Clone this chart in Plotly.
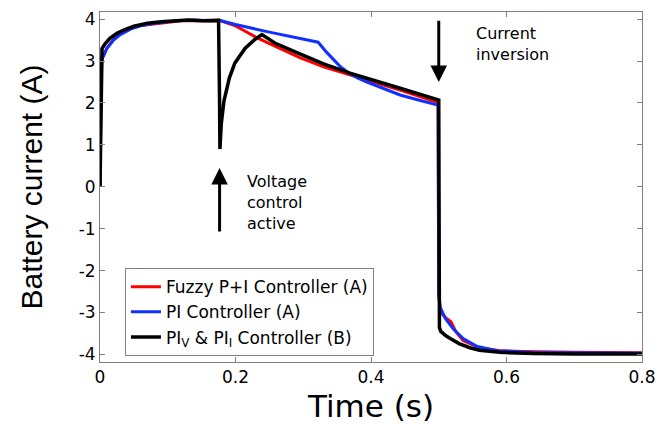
import plotly.graph_objects as go

# ---- data ----
t_fuzzy = [0, 0.001, 0.003, 0.006, 0.01, 0.02, 0.03, 0.045, 0.06, 0.08, 0.1, 0.12, 0.14, 0.16, 0.176,
           0.19, 0.2, 0.211, 0.23, 0.247, 0.27, 0.295, 0.33, 0.369, 0.41, 0.443, 0.499,
           0.5, 0.503, 0.51, 0.518, 0.525, 0.536, 0.56, 0.59, 0.625, 0.7, 0.8]
i_fuzzy = [0, 2.2, 3.1, 3.15, 3.3, 3.52, 3.66, 3.78, 3.85, 3.89, 3.93, 3.96, 3.97, 3.96, 3.97,
           3.9, 3.84, 3.74, 3.57, 3.44, 3.27, 3.08, 2.86, 2.67, 2.48, 2.31, 2.01,
           -2.6, -3.0, -3.12, -3.22, -3.45, -3.67, -3.84, -3.91, -3.93, -3.95, -3.96]

t_pi = [0, 0.001, 0.002, 0.006, 0.01, 0.02, 0.03, 0.045, 0.06, 0.08, 0.1, 0.12, 0.14, 0.16, 0.176,
        0.2, 0.25, 0.3, 0.322, 0.335, 0.344, 0.354, 0.365, 0.38, 0.394, 0.42, 0.443, 0.47, 0.499,
        0.5, 0.502, 0.51, 0.521, 0.536, 0.557, 0.586, 0.635, 0.7, 0.8]
i_pi = [0, 1.5, 3.0, 3.15, 3.3, 3.5, 3.63, 3.76, 3.84, 3.9, 3.94, 3.97, 3.98, 3.96, 3.97,
        3.87, 3.69, 3.53, 3.45, 3.2, 3.05, 2.88, 2.74, 2.6, 2.5, 2.33, 2.19, 2.07, 1.95,
        -2.5, -2.87, -3.15, -3.38, -3.62, -3.81, -3.91, -3.95, -3.96, -3.97]

t_dual = [0, 0.0015, 0.003, 0.008, 0.015, 0.025, 0.035, 0.05, 0.07, 0.09, 0.11, 0.13, 0.15, 0.165, 0.175,
          0.1765, 0.177, 0.179, 0.183, 0.191, 0.199, 0.214, 0.229, 0.239, 0.258, 0.295, 0.33, 0.369,
          0.41, 0.443, 0.5, 0.501, 0.503, 0.51, 0.517, 0.53, 0.546, 0.56, 0.59, 0.64, 0.7, 0.8]
i_dual = [0, 1.5, 3.3, 3.42, 3.55, 3.66, 3.74, 3.83, 3.9, 3.94, 3.97, 3.98, 3.96, 3.96, 3.97,
          2.0, 0.9, 1.5, 2.05, 2.6, 2.95, 3.3, 3.52, 3.63, 3.43, 3.17, 2.93, 2.71,
          2.52, 2.35, 2.07, -3.36, -3.45, -3.55, -3.62, -3.74, -3.84, -3.9, -3.95, -3.98, -3.99, -3.99]

series_names = ["Fuzzy P+I Controller (A)", "PI Controller (A)",
                "PI<sub>V</sub> & PI<sub>I</sub> Controller (B)"]

x_ticks = [0, 0.2, 0.4, 0.6, 0.8]
x_ticktext = ["0", "0.2", "0.4", "0.6", "0.8"]
y_ticks = [-4, -3, -2, -1, 0, 1, 2, 3, 4]
y_ticktext = ["-4", "-3", "-2", "-1", "0", "1", "2", "3", "4"]

# annotation anchors (data coords)
volt_arrow_t, volt_arrow_tail, volt_arrow_head = 0.1765, -1.1, 0.45
inv_arrow_t, inv_arrow_tail, inv_arrow_head = 0.5, 4.0, 2.5

FONT = "DejaVu Sans"
GRAY = "#808080"

fig = go.Figure()
fig.add_trace(go.Scatter(x=t_fuzzy, y=i_fuzzy, mode="lines", name=series_names[0],
                         line=dict(color="#ff0000", width=3)))
fig.add_trace(go.Scatter(x=t_pi, y=i_pi, mode="lines", name=series_names[1],
                         line=dict(color="#1030ff", width=3)))
fig.add_trace(go.Scatter(x=t_dual, y=i_dual, mode="lines", name=series_names[2],
                         line=dict(color="#000000", width=3.5)))

fig.update_layout(
    width=671, height=424,
    margin=dict(l=100, r=29, t=12, b=62, pad=0),
    paper_bgcolor="white", plot_bgcolor="white",
    font=dict(family=FONT, color="black", size=17),
    showlegend=True,
    legend=dict(x=0.046, y=0.268, xanchor="left", yanchor="top",
                bgcolor="white", bordercolor=GRAY, borderwidth=1,
                font=dict(family=FONT, size=17, color="black"),
                itemwidth=30, tracegroupgap=0),
    xaxis=dict(range=[0, 0.8], tickvals=x_ticks, ticktext=x_ticktext, automargin=False,
               ticks="inside", ticklen=5, tickcolor=GRAY, showline=True,
               linecolor=GRAY, linewidth=1, mirror="ticks", showgrid=False,
               zeroline=False, tickfont=dict(family=FONT, size=17),
               title=dict(text="Time (s)", font=dict(family=FONT, size=31), standoff=14)),
    yaxis=dict(range=[-4.18, 4.17], tickvals=y_ticks, ticktext=y_ticktext, automargin=False,
               ticks="inside", ticklen=5, tickcolor=GRAY, showline=True,
               linecolor=GRAY, linewidth=1, mirror="ticks", showgrid=False,
               zeroline=False, tickfont=dict(family=FONT, size=17),
               title=dict(text="Battery current (A)",
                          font=dict(family="Liberation Sans", size=30), standoff=27)),
)

fig.add_annotation(x=volt_arrow_t, y=volt_arrow_head, ax=volt_arrow_t, ay=volt_arrow_tail,
                   xref="x", yref="y", axref="x", ayref="y", text="", showarrow=True,
                   arrowhead=2, arrowsize=1.1, arrowwidth=3, arrowcolor="black")
fig.add_annotation(x=inv_arrow_t, y=inv_arrow_head, ax=inv_arrow_t, ay=inv_arrow_tail,
                   xref="x", yref="y", axref="x", ayref="y", text="", showarrow=True,
                   arrowhead=2, arrowsize=1.1, arrowwidth=3, arrowcolor="black")
fig.add_annotation(x=0.214, y=-0.37, xref="x", yref="y", text="Voltage<br>control<br>active",
                   showarrow=False, xanchor="left", yanchor="middle", align="left",
                   font=dict(family=FONT, size=16, color="black"))
fig.add_annotation(x=0.5525, y=3.40, xref="x", yref="y", text="Current<br>inversion",
                   showarrow=False, xanchor="left", yanchor="middle", align="left",
                   font=dict(family=FONT, size=16, color="black"))

fig.write_html("out.html")
